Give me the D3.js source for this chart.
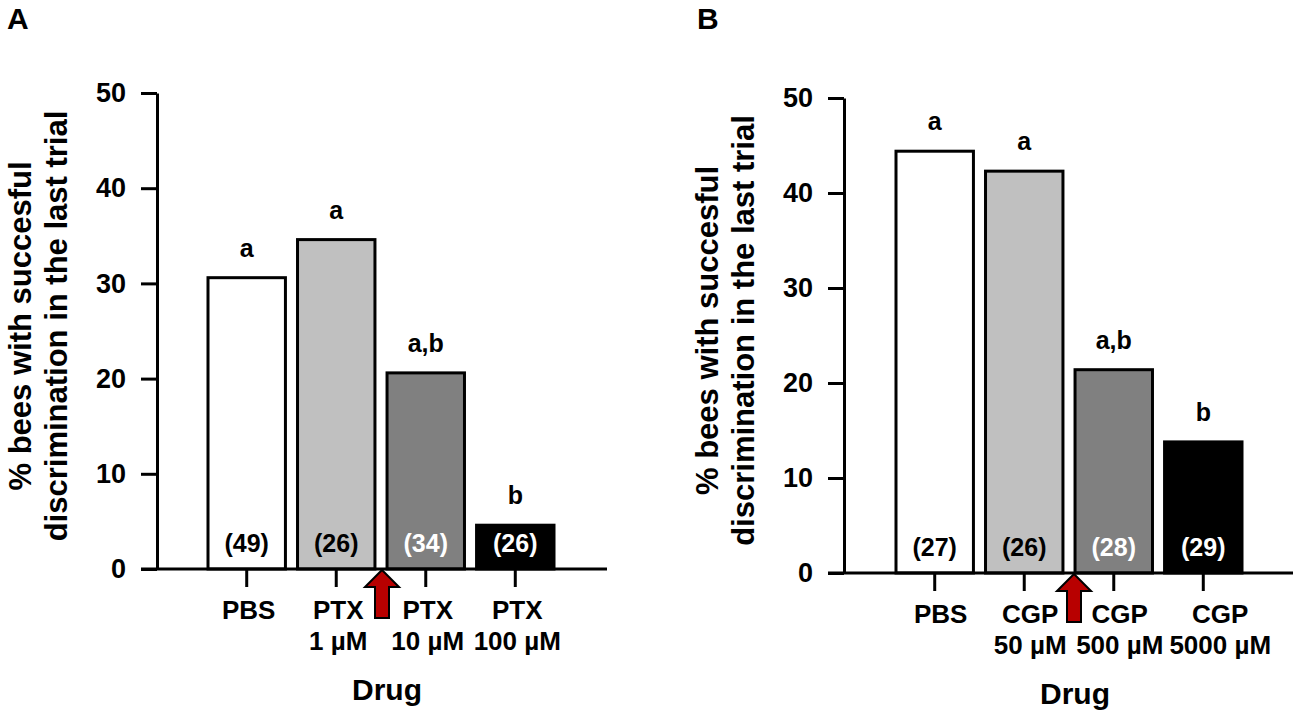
<!DOCTYPE html>
<html>
<head>
<meta charset="utf-8">
<script src="https://cdn.jsdelivr.net/npm/d3@7"></script>
<style>
  body { margin: 0; background: #fff; }
  svg { display: block; font-family: "Liberation Sans", Arial, sans-serif; font-weight: bold; }
</style>
</head>
<body>
<svg id="chart" width="1300" height="720"></svg>
<script>
// values
const yTicks = [0, 10, 20, 30, 40, 50];

const drugsA = [["PBS"], ["PTX", "1 µM"], ["PTX", "10 µM"], ["PTX", "100 µM"]];
const valuesA = [30.6, 34.6, 20.6, 4.6];
const nA = ["(49)", "(26)", "(34)", "(26)"];
const lettersA = ["a", "a", "a,b", "b"];

const drugsB = [["PBS"], ["CGP", "50 µM"], ["CGP", "500 µM"], ["CGP", "5000 µM"]];
const valuesB = [44.4, 42.3, 21.4, 13.8];
const nB = ["(27)", "(26)", "(28)", "(29)"];
const lettersB = ["a", "a", "a,b", "b"];

const yLabel = ["% bees with succesful", "discrimination in the last trial"];
const xLabel = "Drug";

// styles
const fills = ["#ffffff", "#c0c0c0", "#808080", "#000000"];
const nColors = ["#000", "#000", "#fff", "#fff"];
const arrowFill = "#b80000";

const svg = d3.select("#chart");

function drawPanel(p) {
  const g = svg.append("g");
  const keys = p.drugs.map((d) => d.join(" "));

  const y = d3.scaleLinear().domain([0, 50]).range([p.y0, p.y50]);
  const x = d3
    .scaleBand()
    .domain(keys)
    .range([p.barL, p.barR])
    .paddingInner(0.135)
    .paddingOuter(0);

  // panel letter
  g.append("text")
    .attr("x", p.tagX)
    .attr("y", 29)
    .attr("font-size", 30)
    .text(p.tag);

  // y axis
  const yAxis = g
    .append("g")
    .attr("transform", `translate(${p.axisX},0)`)
    .call(
      d3.axisLeft(y).tickValues(yTicks).tickSize(16).tickPadding(15).tickSizeOuter(0)
    );
  yAxis.attr("font-family", null).attr("font-size", 27);
  yAxis.selectAll("path, line").attr("stroke", "#000").attr("stroke-width", 3);
  yAxis.selectAll("text").attr("fill", "#000");

  // y label, two lines
  const ymid = (p.y0 + p.y50) / 2 - 5;
  yLabel.forEach((line, i) => {
    g.append("text")
      .attr("transform", `translate(${p.axisX - 137 + i * 36},${ymid}) rotate(-90)`)
      .attr("text-anchor", "middle")
      .attr("dy", "0.35em")
      .attr("font-size", 31)
      .text(line);
  });

  // bars
  g.append("g")
    .selectAll("rect")
    .data(p.values)
    .enter()
    .append("rect")
      .attr("x", (d, i) => x(keys[i]))
      .attr("y", (d) => y(d))
      .attr("width", x.bandwidth())
      .attr("height", (d) => y(0) - y(d))
      .attr("fill", (d, i) => fills[i])
      .attr("stroke", "#000")
      .attr("stroke-width", 3);

  // baseline, starts at the 0 tick
  g.append("line")
    .attr("x1", p.axisX - 16)
    .attr("x2", p.axisEnd)
    .attr("y1", p.y0)
    .attr("y2", p.y0)
    .attr("stroke", "#000")
    .attr("stroke-width", 3);

  // x ticks
  const xAxis = g
    .append("g")
    .attr("transform", `translate(0,${p.y0})`)
    .call(d3.axisBottom(x).tickSize(18).tickFormat(""));
  xAxis.select(".domain").remove();
  xAxis.selectAll("line").attr("stroke", "#000").attr("stroke-width", 3);

  // category labels, nudged right if they would collide
  let prevRight = -Infinity;
  p.drugs.forEach((lines, i) => {
    const cx = x(keys[i]) + x.bandwidth() / 2 + p.labelDx;
    const t = g
      .append("text")
      .attr("text-anchor", "middle")
      .attr("font-size", 26)
      .attr("transform", `translate(${cx},0)`);
    lines.forEach((s, j) => {
      t.append("tspan")
        .attr("x", 0)
        .attr("y", p.y0 + 50 + j * 31)
        .text(s);
    });
    const bb = t.node().getBBox();
    let shift = 0;
    if (cx + bb.x < prevRight + 6) {
      shift = prevRight + 6 - (cx + bb.x);
      t.attr("transform", `translate(${cx + shift},0)`);
    }
    prevRight = cx + shift + bb.x + bb.width;
  });

  // significance letters
  g.append("g")
    .selectAll("text")
    .data(p.values)
    .enter()
    .append("text")
      .attr("x", (d, i) => x(keys[i]) + x.bandwidth() / 2)
      .attr("y", (d) => y(d) - 21)
      .attr("text-anchor", "middle")
      .attr("font-size", 25)
      .text((d, i) => p.letters[i]);

  // sample sizes inside bars
  g.append("g")
    .selectAll("text")
    .data(p.n)
    .enter()
    .append("text")
      .attr("x", (d, i) => x(keys[i]) + x.bandwidth() / 2)
      .attr("y", p.y0 - 17)
      .attr("text-anchor", "middle")
      .attr("font-size", 25)
      .attr("fill", (d, i) => nColors[i])
      .text((d) => d);

  // red arrow between 2nd and 3rd drug
  const ax = (x(keys[1]) + x.bandwidth() + x(keys[2])) / 2 + p.arrowDx;
  const tip = p.y0 + 1;
  const arrow = d3.path();
  arrow.moveTo(ax, tip);
  arrow.lineTo(ax + 17, tip + 17);
  arrow.lineTo(ax + 7, tip + 17);
  arrow.lineTo(ax + 7, tip + 48);
  arrow.lineTo(ax - 7, tip + 48);
  arrow.lineTo(ax - 7, tip + 17);
  arrow.lineTo(ax - 17, tip + 17);
  arrow.closePath();
  g.append("path")
    .attr("d", arrow.toString())
    .attr("fill", arrowFill)
    .attr("stroke", "#000")
    .attr("stroke-width", 2)
    .attr("stroke-linejoin", "miter");

  // x title
  g.append("text")
    .attr("x", (p.barL + p.barR) / 2 + 6)
    .attr("y", p.y0 + 131)
    .attr("text-anchor", "middle")
    .attr("font-size", 30)
    .text(xLabel);
}

drawPanel({
  tag: "A", tagX: 7,
  drugs: drugsA, values: valuesA, n: nA, letters: lettersA,
  axisX: 157, axisEnd: 607, y0: 569, y50: 93,
  barL: 208, barR: 554, arrowDx: 1, labelDx: 2,
});

drawPanel({
  tag: "B", tagX: 697,
  drugs: drugsB, values: valuesB, n: nB, letters: lettersB,
  axisX: 844, axisEnd: 1293, y0: 573, y50: 98,
  barL: 896, barR: 1242, arrowDx: 5, labelDx: 6,
});
</script>
</body>
</html>
